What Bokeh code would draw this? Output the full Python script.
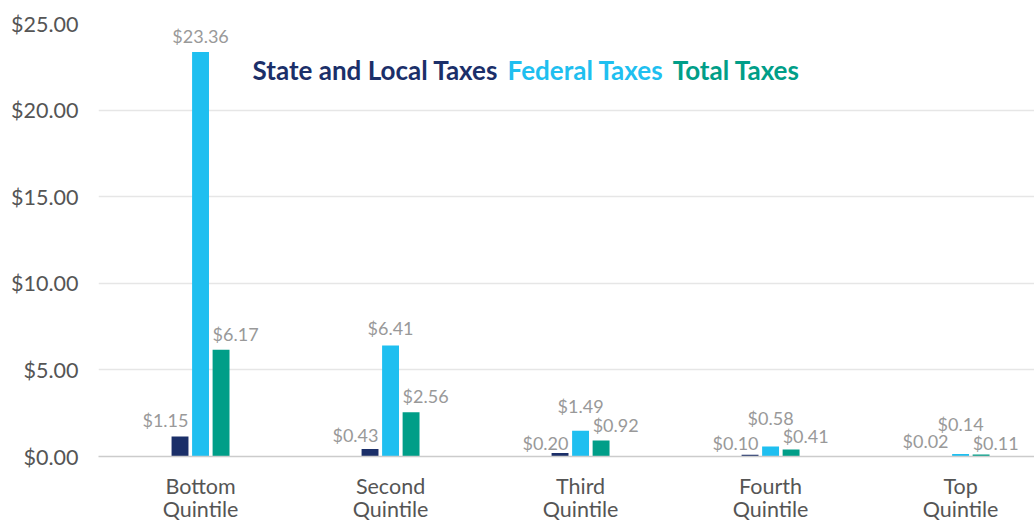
from bokeh.plotting import figure
from bokeh.models import ColumnDataSource, Range1d, FixedTicker, NumeralTickFormatter, Label
from bokeh.transform import dodge
from bokeh.core.properties import value
from bokeh.embed import file_html
from bokeh.resources import INLINE

# ---- data ----
categories = ["Bottom\nQuintile", "Second\nQuintile", "Third\nQuintile", "Fourth\nQuintile", "Top\nQuintile"]
series_names = ["State and Local Taxes", "Federal Taxes", "Total Taxes"]
state_local = [1.15, 0.43, 0.20, 0.10, 0.02]
federal = [23.36, 6.41, 1.49, 0.58, 0.14]
total = [6.17, 2.56, 0.92, 0.41, 0.11]
y_ticks = [0, 5, 10, 15, 20, 25]

# ---- style ----
colors = ["#1b2f69", "#1fbff0", "#009e88"]
FONT = "Lato"
label_color = "#999999"
axis_text = "#555555"
# vertical distance (px) from bar top to label centre, per series
lab_off = {
    "s": [17, 14, 10, 12, 15],
    "f": [16, 17, 25, 28, 30],
    "t": [16, 16, 16, 13, 12],
}

idx = list(range(len(categories)))
src = ColumnDataSource(dict(
    x=idx, s=state_local, f=federal, t=total,
    sl=["$%.2f" % v for v in state_local],
    fl=["$%.2f" % v for v in federal],
    tl=["$%.2f" % v for v in total],
    so=[-v for v in lab_off["s"]],
    fo=[-v for v in lab_off["f"]],
    to=[-v for v in lab_off["t"]],
))

p = figure(width=1034, height=525, output_backend="svg", toolbar_location=None,
           x_range=Range1d(-0.537, 4.389), y_range=Range1d(0, 25),
           min_border_left=98, min_border_right=0, min_border_top=23, min_border_bottom=64)
p.outline_line_color = None
p.background_fill_color = "white"
p.border_fill_color = "white"

bw = 0.089
off = 0.108
p.vbar(x=dodge("x", -off, range=p.x_range), top="s", width=bw, source=src, color=colors[0], line_color=None)
p.vbar(x=dodge("x", 0, range=p.x_range), top="f", width=bw, source=src, color=colors[1], line_color=None)
p.vbar(x=dodge("x", off, range=p.x_range), top="t", width=bw, source=src, color=colors[2], line_color=None)

common = dict(source=src, text_font=value(FONT), text_font_size="18px", text_color=label_color,
              text_baseline="middle")
p.text(x=dodge("x", -off + bw / 2, range=p.x_range), y="s", text="sl", y_offset="so", text_align="right", **common)
p.text(x=dodge("x", 0, range=p.x_range), y="f", text="fl", y_offset="fo", text_align="center", **common)
p.text(x=dodge("x", off - bw / 2, range=p.x_range), y="t", text="tl", y_offset="to", text_align="left", **common)

# legend as coloured bold text
leg_x = [0.274, 1.616, 2.485]
for name, c, lx in zip(series_names, colors, leg_x):
    p.add_layout(Label(x=lx, y=22.3, text=name, text_color=c, text_font=FONT,
                       text_font_size="26px", text_font_style="bold", text_baseline="middle",
                       text_align="left"))

# y axis
p.yaxis.ticker = FixedTicker(ticks=y_ticks)
p.yaxis.formatter = NumeralTickFormatter(format="$0.00")
p.yaxis.axis_line_color = None
p.yaxis.major_tick_line_color = None
p.yaxis.minor_tick_line_color = None
p.yaxis.major_label_text_font = FONT
p.yaxis.major_label_text_font_size = "21.5px"
p.yaxis.major_label_text_color = axis_text
p.yaxis.major_label_standoff = 14

# x axis
p.xaxis.ticker = FixedTicker(ticks=idx)
p.xaxis.major_label_overrides = {i: c for i, c in zip(idx, categories)}
p.xaxis.axis_line_color = "#cccccc"
p.xaxis.axis_line_width = 1.5
p.xaxis.major_tick_line_color = None
p.xaxis.minor_tick_line_color = None
p.xaxis.major_label_text_font = FONT
p.xaxis.major_label_text_font_size = "21.5px"
p.xaxis.major_label_text_color = axis_text
p.xaxis.major_label_text_line_height = 0.92
p.xaxis.major_label_standoff = 10

p.xgrid.grid_line_color = None
p.ygrid.grid_line_color = "#e6e6e6"
p.ygrid.grid_line_width = 1.5

open("out.html", "w").write(file_html(p, INLINE))
